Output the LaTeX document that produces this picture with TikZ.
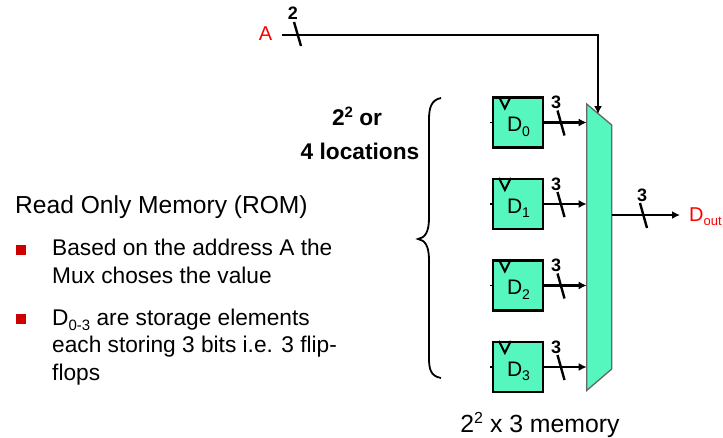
\documentclass[tikz,border=0pt]{standalone}
\usepackage{fontspec}
\setmainfont{Liberation Sans}
\usetikzlibrary{arrows.meta}
\definecolor{tealfill}{RGB}{85,247,190}
\definecolor{bullet}{RGB}{204,0,0}
\newcommand{\fs}[1]{\fontsize{#1}{#1}\selectfont}
\tikzset{
  wire/.style={line width=2.2pt,draw=black},
  arrowwire/.style={wire,-{Latex[length=8pt,width=8pt]}},
  slash/.style={line width=2.4pt,draw=black},
  reg/.style={draw=black,line width=2.2pt,fill=tealfill,minimum width=50pt,minimum height=50pt,inner sep=0pt},
  reglabel/.style={font=\fs{21},inner sep=0pt},
  bitlabel/.style={font=\bfseries\fs{18},inner sep=0pt},
  bodytext/.style={font=\fs{22.7},anchor=base west,inner sep=0pt,align=left},
  boldtext/.style={font=\bfseries\fs{22.7},inner sep=0pt,anchor=base},
  redtext/.style={text=red,inner sep=0pt},
  bulletbox/.style={fill=bullet,minimum size=10pt,inner sep=0pt,draw=none},
}
\begin{document}
\begin{tikzpicture}[x=1pt,y=-1pt]
\useasboundingbox (0,0) rectangle (723,437);
% mux
\draw[line width=1.3pt,draw=black!60,fill=tealfill] (586.7,104) -- (611.7,125) -- (611.7,369) -- (586.7,390.5) -- cycle;
\coordinate (muxtop) at (598,114);
\coordinate (muxout) at (611.7,215);
% registers
\foreach \n/\y in {0/122.5,1/204,2/285.5,3/367}{
  \node[reg] (reg\n) at (518,\y) {};
  \draw[line width=1.4pt] ([xshift=-1.5pt]reg\n.west) -- (reg\n.west);
  \draw[line width=2pt] ([xshift=7pt]reg\n.north west) -- ([xshift=13pt,yshift=-12pt]reg\n.north west) -- ([xshift=19pt]reg\n.north west);
  \node[reglabel,anchor=base] (lab\n) at ([xshift=0.5pt,yshift=-9pt]reg\n.center) {D\raisebox{-4.5pt}{\fs{14}\n}};
  \coordinate (in\n) at (586.7,\y);
  \draw[arrowwire] (reg\n.east) -- (in\n);
  \coordinate (sa\n) at (557.5,\y-12);
  \coordinate (sb\n) at (564.5,\y+13);
  \draw[slash] (sa\n) -- (sb\n);
  \node[bitlabel] (bit\n) at (556,\y-20) {3};
}
% address
\node[redtext,font=\fs{20}] (A) at (265.5,33.5) {A};
\coordinate (astart) at (282,35);
\coordinate (acorner) at (598,35);
\draw[arrowwire] (astart) -- (acorner) -- (muxtop);
\draw[slash] (294,22) -- (301,46);
\node[bitlabel] (two) at (293,13) {2};
% output
\node[anchor=west,redtext,font=\fs{20}] (dout) at (689,216.5) {D\raisebox{-3.5pt}{\fs{13}out}};
\coordinate (outend) at (680,215);
\draw[arrowwire] (muxout) -- (outend);
\draw[slash] (640,203) -- (647,228);
\node[bitlabel] (bito) at (642,195) {3};
% brace
\draw[line width=1.8pt] (441,98) .. controls (431,100) and (429,108) .. (429,120) -- (429,218) .. controls (429,232) and (425,238) .. (418,239) .. controls (425,240) and (429,246) .. (429,260) -- (429,358) .. controls (429,370) and (431,376) .. (441,378);
% labels
\node[boldtext] (loc1) at (357,125) {2\raisebox{8pt}{\fs{15}2} or};
\node[boldtext] (loc2) at (360,159) {4 locations};
\node[font=\fs{24.8},inner sep=0pt,anchor=base] (mem) at (540,432) {2\raisebox{9pt}{\fs{16}2} x 3 memory};
\node[bodytext,font=\fs{24.6}] (title) at (15,213.5) {Read Only Memory (ROM)};
\node[bulletbox] (b1) at (20.5,249.5) {};
\node[bulletbox] (b2) at (20.5,318.5) {};
\node[bodytext] (t1a) at (52,255) {Based on the address A the};
\node[bodytext] (t1b) at (52,283) {Mux choses the value};
\node[bodytext] (t2a) at (52,325) {D\raisebox{-5pt}{\fs{15}0-3} are storage elements};
\node[bodytext] (t2b) at (52,352) {each storing 3 bits i.e. 3 flip-};
\node[bodytext] (t2c) at (52,380) {flops};
\end{tikzpicture}
\end{document}
